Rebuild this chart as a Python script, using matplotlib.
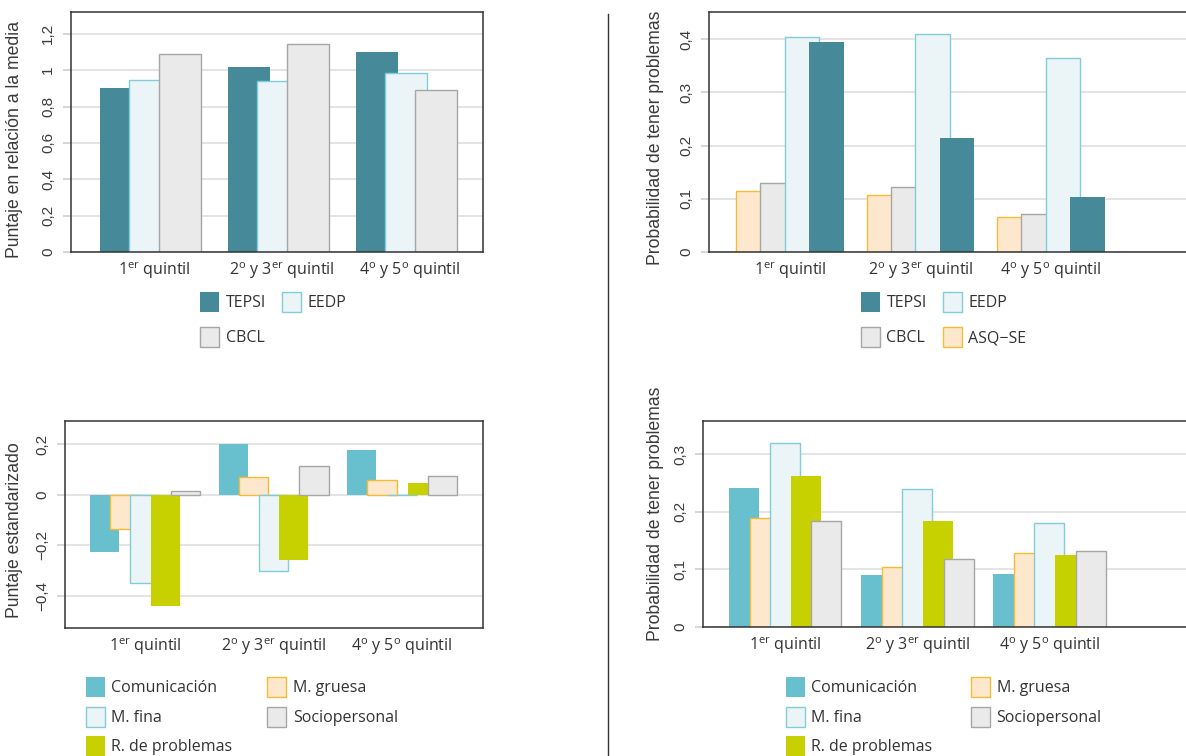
import matplotlib
matplotlib.use('Agg')
import matplotlib.pyplot as plt
from matplotlib.lines import Line2D

plt.rcParams['font.family'] = ['Open Sans', 'DejaVu Sans']
plt.rcParams['mathtext.fontset'] = 'custom'
plt.rcParams['mathtext.rm'] = 'Open Sans'
plt.rcParams['mathtext.it'] = 'Open Sans:italic'
plt.rcParams['mathtext.bf'] = 'Open Sans:bold'
plt.rcParams['font.size'] = 11.5
plt.rcParams['text.color'] = '#333333'
ARIAL = ['Liberation Sans', 'DejaVu Sans']

# data
quintiles = ['1$^{\\mathrm{er}}$ quintil',
             '2$^{\\mathrm{o}}$ y 3$^{\\mathrm{er}}$ quintil',
             '4$^{\\mathrm{o}}$ y 5$^{\\mathrm{o}}$ quintil']

# panel 1: puntaje en relación a la media
p1_tepsi = [0.903, 1.016, 1.099]
p1_eedp = [0.948, 0.941, 0.985]
p1_cbcl = [1.090, 1.143, 0.893]

# panel 2: probabilidad de tener problemas (instrumentos)
p2_asq = [0.115, 0.107, 0.065]
p2_cbcl = [0.129, 0.123, 0.071]
p2_eedp = [0.404, 0.410, 0.364]
p2_tepsi = [0.394, 0.214, 0.103]

# panel 3: puntaje estandarizado por área
p3_com = [-0.226, 0.201, 0.177]
p3_mg = [-0.134, 0.069, 0.060]
p3_mf = [-0.349, -0.303, 0.0]
p3_rp = [-0.440, -0.258, 0.046]
p3_sp = [0.015, 0.114, 0.075]

# panel 4: probabilidad de tener problemas por área
p4_com = [0.241, 0.091, 0.092]
p4_mg = [0.189, 0.105, 0.128]
p4_mf = [0.319, 0.239, 0.180]
p4_rp = [0.262, 0.184, 0.125]
p4_sp = [0.184, 0.118, 0.132]

# styles
TEPSI = dict(color='#468a99', edgecolor='none')
EEDP = dict(color='#ebf5f8', edgecolor='#80ccd7')
CBCL = dict(color='#eaeaea', edgecolor='#a6a6a6')
ASQ = dict(color='#fee8cd', edgecolor='#f5bb35')
COM = dict(color='#68c0cf', edgecolor='none')
MG = ASQ
MF = EEDP
RP = dict(color='#c8d100', edgecolor='none')
SP = CBCL

W, H = 1186, 756
fig = plt.figure(figsize=(W / 100, H / 100), dpi=100)


def add_ax(l, t, r, b):
    return fig.add_axes([l / W, 1 - b / H, (r - l) / W, (b - t) / H])


def fmt(v):
    s = ('%g' % round(v, 2)).replace('.', ',')
    return s.replace('-', '\u2212')


def style(ax, yticks, ylim, xlim, ylabel, lab_xy, dark_zero=True, xshift=0.0):
    ax.set_ylim(*ylim)
    ax.set_xlim(*xlim)
    ax.set_yticks(yticks)
    ax.set_yticklabels([fmt(v) for v in yticks], rotation=90, va='center', ha='right',
                       fontfamily=ARIAL, fontsize=11)
    ax.set_xticks([i + xshift for i in range(3)])
    ax.set_xticklabels(quintiles)
    ax.tick_params(axis='x', length=0, pad=6, labelcolor='#333333', labelsize=11.5)
    ax.tick_params(axis='y', length=5.5, width=1.1, color='#cccccc', pad=6,
                   labelcolor='#3a3a3a')
    ax.grid(axis='y', color='#dddddd', linewidth=1.1)
    ax.set_axisbelow(True)
    for s in ax.spines.values():
        s.set_color('#333333')
        s.set_linewidth(1.1)
    if dark_zero:
        ax.yaxis.get_major_ticks()[0].tick1line.set_color('#333333')
    ax.set_ylabel(ylabel, fontsize=12.7, color='#3a3a3a', fontfamily=ARIAL)
    ax.yaxis.label.set_va('center')
    ax.yaxis.set_label_coords(*lab_xy, transform=fig.transFigure)


def bars(ax, series, styles, width, step):
    n = len(series)
    out = []
    for k, (vals, st) in enumerate(zip(series, styles)):
        off = (k - (n - 1) / 2) * step
        out.append(ax.bar([i + off for i in range(3)], vals, width, linewidth=1.0, **st))
    return out


def legend(ax, handles, labels, x, y, colsp, labsp):
    ax.legend(handles, labels, ncol=2, loc='upper left',
              bbox_to_anchor=(x / W, 1 - y / H), bbox_transform=fig.transFigure,
              frameon=False, borderpad=0, borderaxespad=0, fontsize=11.5,
              handlelength=1.19, handleheight=1.55, handletextpad=0.42,
              columnspacing=colsp, labelspacing=labsp, labelcolor='#333333')


# panel 1
ax1 = add_ax(71, 12, 483, 252)
b = bars(ax1, [p1_tepsi, p1_eedp, p1_cbcl], [TEPSI, EEDP, CBCL], 0.328, 0.229)
style(ax1, [0, 0.2, 0.4, 0.6, 0.8, 1.0, 1.2], (0, 1.32), (-0.62, 2.6),
      'Puntaje en relación a la media', (14.5 / W, 1 - 139 / H), xshift=0.03)
legend(ax1, [b[0], b[2], b[1]], ['TEPSI', 'CBCL', 'EEDP'], 200, 292, 1.0, 0.94)

# panel 2
ax2 = add_ax(709, 12, 1230, 252)
b = bars(ax2, [p2_asq, p2_cbcl, p2_eedp, p2_tepsi], [ASQ, CBCL, EEDP, TEPSI], 0.264, 0.187)
style(ax2, [0, 0.1, 0.2, 0.3, 0.4], (0, 0.451), (-0.62, (1230 - 789.7) / 130.5),
      'Probabilidad de tener problemas', (655 / W, 1 - 138 / H))
legend(ax2, [b[3], b[1], b[2], b[0]], ['TEPSI', 'CBCL', 'EEDP', 'ASQ\u2212SE'], 860.7, 292, 1.0, 0.94)

# panel 3
ax3 = add_ax(65, 421, 483, 628)
b = bars(ax3, [p3_com, p3_mg, p3_mf, p3_rp, p3_sp], [COM, MG, MF, RP, SP], 0.228, 0.157)
style(ax3, [-0.4, -0.2, 0, 0.2], (-0.528, 0.292), (-0.623, 2.63),
      'Puntaje estandarizado', (14.5 / W, 1 - 530 / H), dark_zero=False)
legend(ax3, [b[0], b[2], b[3], b[1], b[4]],
       ['Comunicación', 'M. fina', 'R. de problemas', 'M. gruesa', 'Sociopersonal'],
       85.7, 677, 2.17, 0.6)

# panel 4
ax4 = add_ax(703, 421, 1230, 627)
b = bars(ax4, [p4_com, p4_mg, p4_mf, p4_rp, p4_sp], [COM, MG, MF, RP, SP], 0.227, 0.156)
style(ax4, [0, 0.1, 0.2, 0.3], (0, 0.358), (-0.623, (1230 - 785.5) / 132),
      'Probabilidad de tener problemas', (655 / W, 1 - 514 / H))
legend(ax4, [b[0], b[2], b[3], b[1], b[4]],
       ['Comunicación', 'M. fina', 'R. de problemas', 'M. gruesa', 'Sociopersonal'],
       785.7, 677, 2.4, 0.6)

# divider
fig.add_artist(Line2D([607.5 / W, 607.5 / W], [1 - 14 / H, 0], color='#333333', linewidth=1.0))

fig.savefig('out.png', dpi=100)
